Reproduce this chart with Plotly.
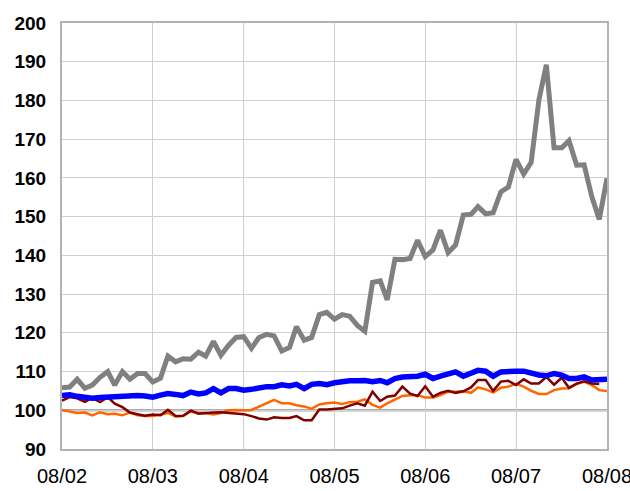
import pandas as pd
import plotly.graph_objects as go

months = pd.date_range("2002-08-01", periods=73, freq="MS")

gray = [105.8, 106.0, 108.0, 105.7, 106.5, 108.5, 110.0, 106.5, 110.0, 108.0, 109.5, 109.5,
        107.3, 108.3, 114.0, 112.5, 113.3, 113.2, 115.0, 114.0, 117.8, 114.2, 116.8, 118.8,
        119.0, 116.0, 118.8, 119.6, 119.2, 115.3, 116.2, 121.6, 118.1, 118.8, 124.7, 125.3,
        123.5, 124.7, 124.3, 121.9, 120.4, 133.0, 133.4, 128.5, 139.0, 138.9, 139.2, 143.9,
        139.7, 141.4, 146.5, 140.7, 142.7, 150.4, 150.6, 152.6, 150.7, 151.0, 156.4, 157.6,
        164.8, 161.0, 164.0, 180.1, 189.2, 167.8, 167.8, 169.6, 163.3, 163.4, 155.1, 149.3,
        159.9]

blue = [103.8, 104.0, 103.6, 103.3, 103.1, 103.3, 103.4, 103.7, 103.8, 103.8, 103.8, 103.7,
        103.4, 103.9, 104.3, 104.1, 103.8, 104.7, 104.2, 104.5, 105.6, 104.5, 105.6, 105.6,
        105.2, 105.4, 105.8, 106.1, 106.1, 106.6, 106.3, 106.7, 105.6, 106.7, 106.9, 106.6,
        107.1, 107.4, 107.6, 107.6, 107.7, 107.4, 107.7, 107.1, 108.2, 108.6, 108.6, 108.8,
        109.3, 108.2, 108.8, 109.5, 109.9, 108.8, 109.5, 110.3, 110.1, 108.8, 109.9, 110.1,
        110.1, 110.1, 109.5, 109.1, 108.9, 109.5, 109.1, 108.2, 108.2, 108.6, 107.8, 107.8,
        108.0]

orange = [100.1, 99.7, 99.3, 99.4, 98.7, 99.5, 99.0, 99.1, 98.7, 99.4, 98.7, 98.5,
          98.5, 98.9, 99.3, 98.4, 98.5, 99.7, 99.3, 99.3, 98.9, 99.3, 100.0, 100.1,
          100.0, 100.1, 101.0, 101.8, 102.7, 101.8, 101.8, 101.3, 101.0, 100.4, 101.5, 101.8,
          102.0, 101.6, 102.1, 102.2, 102.8, 101.4, 100.7, 101.8, 102.8, 103.7, 103.9, 103.9,
          103.3, 103.3, 103.9, 104.8, 104.8, 104.9, 104.5, 105.9, 105.4, 104.6, 105.8, 106.1,
          106.8, 106.1, 105.0, 104.2, 104.2, 105.2, 105.6, 105.7, 106.8, 107.4, 106.5, 105.2,
          105.0]

darkred = [102.5, 103.4, 103.1, 102.2, 103.2, 102.1, 103.4, 101.7, 100.8, 99.4, 99.0, 98.6,
           98.9, 98.7, 100.1, 98.5, 98.6, 99.9, 99.1, 99.3, 99.4, 99.5, 99.3, 99.3,
           99.0, 98.5, 97.9, 97.6, 98.2, 98.0, 98.0, 98.5, 97.4, 97.4, 100.2, 100.2,
           100.3, 100.5, 101.2, 101.8, 101.2, 104.8, 102.4, 103.5, 103.8, 106.1, 104.3, 103.7,
           106.2, 103.5, 104.5, 105.0, 104.5, 104.9, 105.9, 107.8, 107.8, 105.0, 107.4, 107.6,
           106.5, 108.0, 106.9, 106.9, 108.6, 106.6, 108.4, 105.8, 106.9, 107.5, 106.9, 106.8]

y_ticks = [90, 100, 110, 120, 130, 140, 150, 160, 170, 180, 190, 200]

fig = go.Figure()
fig.add_trace(go.Scatter(x=months, y=orange, mode="lines",
                         line=dict(color="#FF6600", width=2.5)))
fig.add_trace(go.Scatter(x=months[:len(darkred)], y=darkred, mode="lines",
                         line=dict(color="#800000", width=2.5)))
fig.add_trace(go.Scatter(x=months, y=blue, mode="lines",
                         line=dict(color="#0000FF", width=5.5)))
fig.add_trace(go.Scatter(x=months, y=gray, mode="lines",
                         line=dict(color="#808080", width=5)))

fig.add_hline(y=100, line=dict(color="#aaaaaa", width=2.5), layer="below")

fig.update_layout(
    width=630, height=491,
    margin=dict(l=62, r=23, t=23, b=42),
    paper_bgcolor="white", plot_bgcolor="white",
    showlegend=False,
    font=dict(family="Liberation Sans, Arial, sans-serif", color="black"),
)
fig.update_xaxes(
    range=[months[0], months[-1]],
    tickformat="%m/%y", dtick="M12", tick0=months[0],
    showgrid=True, gridcolor="#d0d0d0", gridwidth=1,
    showline=True, linecolor="#b3b3b3", linewidth=2, mirror=True,
    ticks="", tickfont=dict(size=20), ticklabelstandoff=8,
    ticklabeloverflow="allow", automargin=False,
    zeroline=False,
)
fig.update_yaxes(
    range=[90, 200], tickvals=y_ticks,
    showgrid=True, gridcolor="#d0d0d0", gridwidth=1,
    showline=True, linecolor="#b3b3b3", linewidth=2, mirror=True,
    ticks="", tickfont=dict(size=19, weight="bold"), ticklabelstandoff=10,
    ticklabeloverflow="allow", automargin=False,
    zeroline=False,
)

fig.write_html(
    "out.html",
    config={"displayModeBar": False},
    post_script="document.body.style.margin='0';document.body.style.overflow='hidden';",
)
